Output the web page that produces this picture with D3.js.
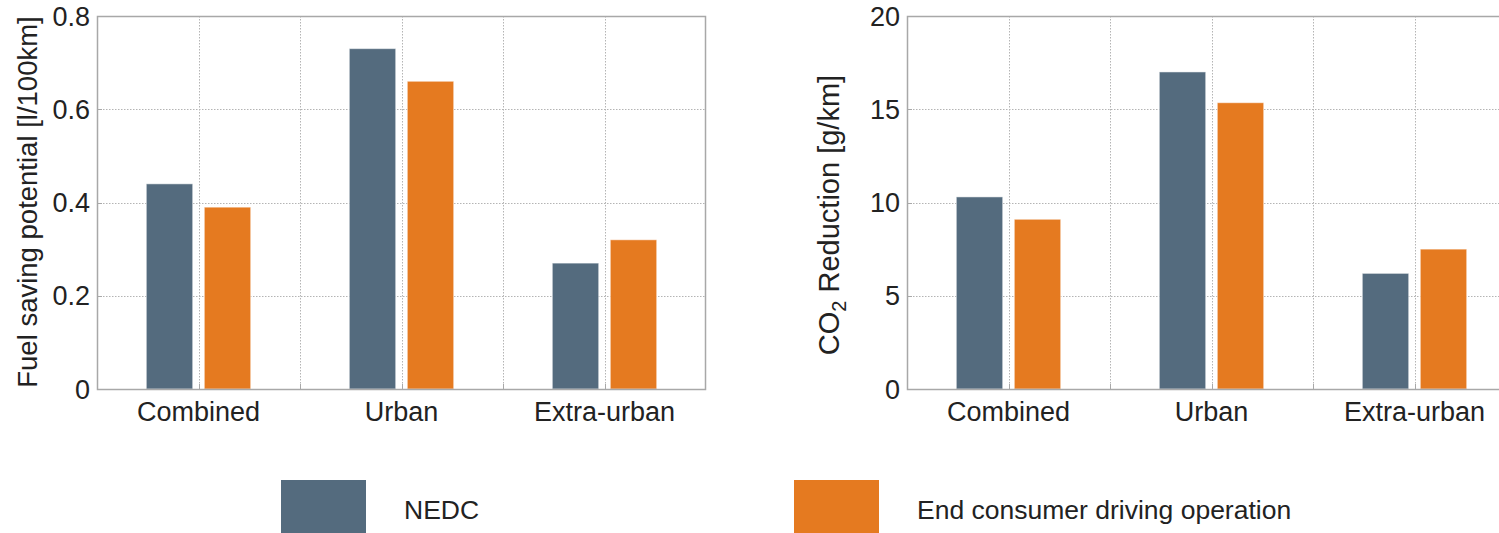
<!DOCTYPE html>
<html>
<head>
<meta charset="utf-8">
<script src="https://cdn.jsdelivr.net/npm/d3@7"></script>
<style>
  html, body { margin: 0; padding: 0; background: #fff; overflow: hidden; }
  svg { display: block; font-family: "Liberation Sans", Arial, sans-serif; }
</style>
</head>
<body>
<svg id="chart" width="1499" height="533"></svg>
<script>
// Driving cycles on the x axis
const categories = ["Combined", "Urban", "Extra-urban"];
const seriesNames = ["NEDC", "End consumer driving operation"];
const seriesColors = ["#546b7e", "#e57a20"];

// Fuel saving potential [l/100km]
const fuelNEDC = [0.44, 0.73, 0.27];
const fuelConsumer = [0.39, 0.66, 0.32];

// CO2 reduction [g/km]
const co2NEDC = [10.3, 17.0, 6.2];
const co2Consumer = [9.1, 15.35, 7.5];

const fuelTicks = [0, 0.2, 0.4, 0.6, 0.8];
const co2Ticks = [0, 5, 10, 15, 20];

const svg = d3.select("#chart");
const gridColor = "#b4b4b4";
const frameColor = "#a8a8a8";
const textColor = "#222";

function drawPanel(opts) {
  const { left, right, top, bottom, yMax, ticks, tickFmt, values } = opts;
  const x = d3.scaleLinear().domain([0.5, 3.5]).range([left, right]);
  const y = d3.scaleLinear().domain([0, yMax]).range([bottom, top]);
  const g = svg.append("g");
  const clipId = "clip" + left;
  g.append("clipPath").attr("id", clipId)
    .append("rect").attr("x", left).attr("y", top - 2)
    .attr("width", right - left).attr("height", bottom - top + 4);

  const plot = g.append("g").attr("clip-path", `url(#${clipId})`);

  // dotted grid
  const xGrid = [1, 1.5, 2, 2.5, 3];
  plot.selectAll(".vg").data(xGrid).join("line")
    .attr("x1", d => Math.round(x(d)) + 0.5).attr("x2", d => Math.round(x(d)) + 0.5)
    .attr("y1", top).attr("y2", bottom)
    .attr("stroke", gridColor).attr("stroke-width", 1).attr("stroke-dasharray", "1.5,1.5");
  plot.selectAll(".hg").data(ticks.filter(t => t > 0 && t < yMax)).join("line")
    .attr("x1", left).attr("x2", right)
    .attr("y1", d => Math.round(y(d)) + 0.5).attr("y2", d => Math.round(y(d)) + 0.5)
    .attr("stroke", gridColor).attr("stroke-width", 1).attr("stroke-dasharray", "1.5,1.5");

  // grouped bars
  const slot = 2 / 7;          // group width 4/7 split across two series
  const bw = 0.8 * slot;
  values.forEach((vals, s) => {
    const off = (s - 0.5) * slot;
    plot.selectAll(".bar" + s).data(vals).join("rect")
      .attr("x", (d, i) => x(i + 1 + off - bw / 2))
      .attr("width", x(bw) - x(0))
      .attr("y", d => y(d))
      .attr("height", d => y(0) - y(d))
      .attr("fill", seriesColors[s])
      .attr("stroke", "#ffffff").attr("stroke-opacity", 0.5).attr("stroke-width", 1);
  });

  // small inward ticks
  plot.selectAll(".xt").data(xGrid).join("line")
    .attr("x1", d => Math.round(x(d)) + 0.5).attr("x2", d => Math.round(x(d)) + 0.5)
    .attr("y1", bottom).attr("y2", bottom - 5)
    .attr("stroke", frameColor);
  plot.selectAll(".yt").data(ticks).join("line")
    .attr("x1", left).attr("x2", left + 5)
    .attr("y1", d => Math.round(y(d)) + 0.5).attr("y2", d => Math.round(y(d)) + 0.5)
    .attr("stroke", frameColor);

  // frame
  g.append("rect")
    .attr("x", left + 0.5).attr("y", top + 0.5)
    .attr("width", right - left - 1).attr("height", bottom - top)
    .attr("fill", "none").attr("stroke", frameColor).attr("stroke-width", 1.5);

  // y tick labels
  g.selectAll(".yl").data(ticks).join("text")
    .attr("x", left - 7).attr("y", d => y(d))
    .attr("dy", "0.36em")
    .attr("text-anchor", "end")
    .attr("font-size", 27).attr("fill", textColor)
    .text(tickFmt);

  // category labels
  g.selectAll(".xl").data(categories).join("text")
    .attr("x", (d, i) => x(i + 1)).attr("y", bottom + 32)
    .attr("text-anchor", "middle")
    .attr("font-size", 27).attr("fill", textColor)
    .text(d => d);

  return g;
}

const fuelPanel = drawPanel({
  left: 97, right: 706, top: 16, bottom: 389,
  yMax: 0.8, ticks: fuelTicks, tickFmt: d => d === 0 ? "0" : d3.format(".1f")(d),
  values: [fuelNEDC, fuelConsumer]
});
fuelPanel.append("text")
  .attr("transform", "translate(37,202) rotate(-90)")
  .attr("text-anchor", "middle")
  .attr("font-size", 27.5).attr("fill", textColor)
  .text("Fuel saving potential [l/100km]");

const co2Panel = drawPanel({
  left: 907, right: 1516, top: 16, bottom: 389,
  yMax: 20, ticks: co2Ticks, tickFmt: d => String(d),
  values: [co2NEDC, co2Consumer]
});
const co2Label = co2Panel.append("text")
  .attr("transform", "translate(839,215) rotate(-90)")
  .attr("text-anchor", "middle")
  .attr("font-size", 29).attr("fill", textColor);
co2Label.append("tspan").text("CO");
co2Label.append("tspan").attr("font-size", 20).attr("dy", 7).text("2");
co2Label.append("tspan").attr("dy", -7).text(" Reduction [g/km]");

// legend
const legend = svg.append("g");
const legendItems = [
  { name: seriesNames[0], color: seriesColors[0], sx: 281, tx: 404 },
  { name: seriesNames[1], color: seriesColors[1], sx: 794, tx: 917 }
];
legendItems.forEach(d => {
  legend.append("rect")
    .attr("x", d.sx).attr("y", 480).attr("width", 85).attr("height", 60)
    .attr("fill", d.color);
  legend.append("text")
    .attr("x", d.tx).attr("y", 509).attr("dy", "0.36em")
    .attr("font-size", 26.5).attr("fill", textColor)
    .text(d.name);
});
</script>
</body>
</html>
